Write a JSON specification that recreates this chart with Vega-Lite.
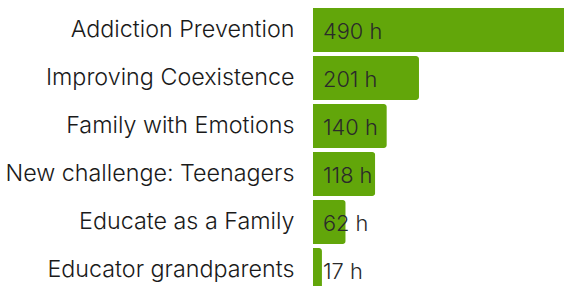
{
  "$schema": "https://vega.github.io/schema/vega-lite/v6.json",
  "autosize": "none",
  "width": 251,
  "height": 288,
  "padding": {"left": 313, "top": 6, "right": 0, "bottom": 0},
  "background": "white",
  "config": {"view": {"stroke": null}, "font": "Inter"},
  "data": {"values": [
    {"program": "Addiction Prevention", "hours": 490},
    {"program": "Improving Coexistence", "hours": 201},
    {"program": "Family with Emotions", "hours": 140},
    {"program": "New challenge: Teenagers", "hours": 118},
    {"program": "Educate as a Family", "hours": 62},
    {"program": "Educator grandparents", "hours": 17}
  ]},
  "transform": [{"calculate": "datum.hours + ' h'", "as": "label"}],
  "encoding": {
    "y": {"field": "program", "type": "nominal", "sort": null,
      "scale": {"paddingInner": 0.0833, "paddingOuter": 0.0417},
      "axis": {"title": null, "ticks": false, "domain": false, "labelPadding": 19, "labelFontSize": 23.3, "labelColor": "#1a1a1a", "labelFont": "Inter", "labelFontWeight": 300, "labelLimit": 400}}
  },
  "layer": [
    {"mark": {"type": "bar", "color": "#62a60a", "cornerRadiusEnd": 3},
     "encoding": {"x": {"field": "hours", "type": "quantitative", "scale": {"domain": [0, 476], "nice": false}, "axis": null}}},
    {"mark": {"type": "text", "align": "left", "baseline": "middle", "dx": 10, "dy": 2, "fontSize": 21.8, "font": "Inter", "fontWeight": 300, "color": "#2a2a2a"},
     "encoding": {"x": {"datum": 0, "type": "quantitative"}, "text": {"field": "label"}}}
  ]
}
